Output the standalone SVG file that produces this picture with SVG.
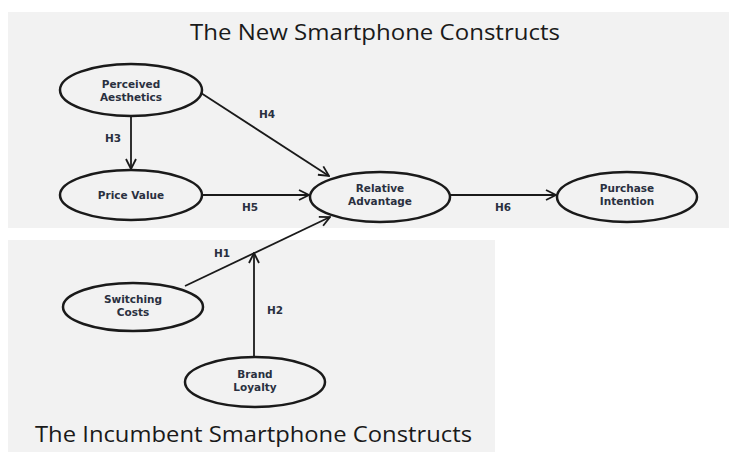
<svg xmlns="http://www.w3.org/2000/svg" width="729" height="452" viewBox="0 0 729 452">
  <style>
    .panel { fill: #f2f2f2; }
    .title { font-family: "Open Sans", "Noto Sans", sans-serif; font-size: 21px; fill: #1a1a1a; }
    .node ellipse { fill: #f2f2f2; stroke: #1a1a1a; stroke-width: 2.5; }
    .node text { font-family: "DejaVu Sans", "Open Sans", sans-serif; font-weight: bold; font-size: 10.5px; fill: #2a3040; text-anchor: middle; }
    .edge { stroke: #1a1a1a; stroke-width: 1.8; fill: none; }
    .lbl { font-family: "DejaVu Sans", "Open Sans", sans-serif; font-weight: bold; font-size: 10.5px; fill: #2a3040; text-anchor: middle; }
  </style>
  <defs>
    <marker id="arrow" viewBox="0 0 12 12" refX="11" refY="6" markerWidth="12" markerHeight="12" markerUnits="userSpaceOnUse" orient="auto">
      <path d="M1,1 L11,6 L1,11" fill="none" stroke="#1a1a1a" stroke-width="1.8"/>
    </marker>
  </defs>

  <rect width="729" height="452" fill="#ffffff"/>
  <!-- construct groups -->
  <rect class="panel" x="8" y="12" width="721" height="216"/>
  <rect class="panel" x="8" y="240" width="487" height="212"/>
  <text class="title" x="375" y="40" text-anchor="middle" textLength="370" lengthAdjust="spacingAndGlyphs">The New Smartphone Constructs</text>
  <text class="title" x="35" y="442" textLength="437" lengthAdjust="spacingAndGlyphs">The Incumbent Smartphone Constructs</text>

  <!-- paths between constructs -->
  <g id="connectors">
    <line class="edge" x1="131" y1="117" x2="131" y2="169" marker-end="url(#arrow)"/>
    <line class="edge" x1="201" y1="93" x2="329" y2="176" marker-end="url(#arrow)"/>
    <line class="edge" x1="202" y1="195" x2="309" y2="195" marker-end="url(#arrow)"/>
    <line class="edge" x1="450" y1="195" x2="556" y2="195" marker-end="url(#arrow)"/>
    <line class="edge" x1="185" y1="286" x2="330" y2="217" marker-end="url(#arrow)"/>
    <line class="edge" x1="254" y1="357" x2="254" y2="253" marker-end="url(#arrow)"/>
    <text class="lbl" x="113" y="142">H3</text>
    <text class="lbl" x="267" y="118">H4</text>
    <text class="lbl" x="250" y="211">H5</text>
    <text class="lbl" x="503" y="211">H6</text>
    <text class="lbl" x="222" y="257">H1</text>
    <text class="lbl" x="275" y="314">H2</text>
  </g>

  <g id="perceived-aesthetics" class="node">
    <ellipse cx="131" cy="90" rx="71" ry="26"/>
    <text x="131" y="88">Perceived</text>
    <text x="131" y="101">Aesthetics</text>
  </g>
  <g id="price-value" class="node">
    <ellipse cx="131" cy="195" rx="71" ry="25"/>
    <text x="131" y="199">Price Value</text>
  </g>
  <g id="relative-advantage" class="node">
    <ellipse cx="380" cy="197" rx="70" ry="25"/>
    <text x="380" y="192">Relative</text>
    <text x="380" y="205">Advantage</text>
  </g>
  <g id="purchase-intention" class="node">
    <ellipse cx="627" cy="197" rx="70" ry="25"/>
    <text x="627" y="192">Purchase</text>
    <text x="627" y="205">Intention</text>
  </g>
  <g id="switching-costs" class="node">
    <ellipse cx="133" cy="307" rx="70" ry="24"/>
    <text x="133" y="303">Switching</text>
    <text x="133" y="316">Costs</text>
  </g>
  <g id="brand-loyalty" class="node">
    <ellipse cx="255" cy="382" rx="70" ry="25"/>
    <text x="255" y="378">Brand</text>
    <text x="255" y="391">Loyalty</text>
  </g>
</svg>
